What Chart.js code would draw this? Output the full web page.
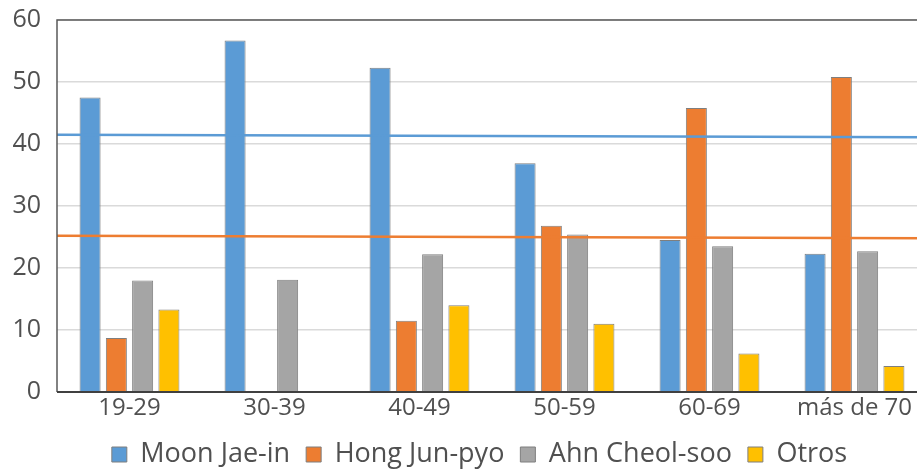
<!DOCTYPE html>
<html>
<head>
<meta charset="utf-8">
<script src="https://cdn.jsdelivr.net/npm/chart.js@4"></script>
<style>
  html, body { margin: 0; padding: 0; background: #fff; overflow: hidden; }
  #wrap { width: 930px; height: 469px; position: relative; }
</style>
</head>
<body>
<div id="wrap"><canvas id="chart"></canvas></div>
<script>
const categories = ['19-29', '30-39', '40-49', '50-59', '60-69', 'más de 70'];
const moon = [47.5, 56.7, 52.3, 36.9, 24.5, 22.3];
const hong = [8.7, null, 11.5, 26.8, 45.8, 50.8];
const ahn = [18.0, 18.1, 22.2, 25.4, 23.5, 22.7];
const otros = [13.3, null, 14.0, 11.0, 6.2, 4.2];
// average lines, value at the left and right edge of the plot
const moonAvg = [41.5, 41.1];
const hongAvg = [25.2, 24.8];
const yTicks = [0, 10, 20, 30, 40, 50, 60];

const blue = '#5b9bd5', orange = '#ed7d31', gray = '#a5a5a5', yellow = '#ffc000';
const textColor = '#505050';
const font = "'Open Sans', sans-serif";

const barDs = (label, data, color) => ({
    label: label,
    data: data,
    backgroundColor: color,
    borderColor: '#7f7f7f',
    borderWidth: 1,
    barPercentage: 0.8,
    categoryPercentage: 0.725
});

// horizontal average lines, placed with the y scale, drawn over the bars
const avgLines = {
    id: 'avgLines',
    afterDatasetsDraw(chart) {
        const a = chart.chartArea;
        const y = chart.scales.y;
        const ctx = chart.ctx;
        ctx.save();
        ctx.lineWidth = 2.5;
        [[moonAvg, blue], [hongAvg, orange]].forEach(([vals, color]) => {
            ctx.strokeStyle = color;
            ctx.beginPath();
            ctx.moveTo(a.left, y.getPixelForValue(vals[0]));
            ctx.lineTo(a.right, y.getPixelForValue(vals[1]));
            ctx.stroke();
        });
        // plot frame
        ctx.strokeStyle = '#595959';
        ctx.lineWidth = 1.5;
        ctx.beginPath();
        ctx.moveTo(a.left, a.bottom);
        ctx.lineTo(a.left, a.top);
        ctx.lineTo(a.right, a.top);
        ctx.lineTo(a.right, a.bottom);
        ctx.stroke();
        ctx.strokeStyle = '#404040';
        ctx.lineWidth = 2;
        ctx.beginPath();
        ctx.moveTo(a.left, a.bottom);
        ctx.lineTo(a.right, a.bottom);
        ctx.stroke();
        ctx.restore();
    }
};

// fixed legend height so the plot bottom lands where it should
const legendFix = {
    id: 'legendFix',
    beforeLayout(chart) {
        const lg = chart.legend;
        if (lg && !lg._patched) {
            const fit = lg.fit;
            lg.fit = function() { fit.call(this); this.height = 44; };
            lg._patched = true;
        }
    },
    afterLayout(chart) {
        chart.legend.left += 32;
    }
};

new Chart(document.getElementById('chart'), {
    type: 'bar',
    data: {
        labels: categories,
        datasets: [
            barDs('Moon Jae-in', moon, blue),
            barDs('Hong Jun-pyo', hong, orange),
            barDs('Ahn Cheol-soo', ahn, gray),
            barDs('Otros', otros, yellow)
        ]
    },
    options: {
        responsive: true,
        maintainAspectRatio: false,
        animation: false,
        layout: { padding: { top: 20, right: 3, left: 0, bottom: 0 } },
        plugins: {
            tooltip: { enabled: false },
            legend: {
                position: 'bottom',
                labels: {
                    color: textColor,
                    font: { family: font, size: 27 },
                    boxWidth: 15,
                    boxHeight: 15,
                    padding: 16
                }
            }
        },
        scales: {
            x: {
                offset: true,
                grid: { display: false, drawTicks: false },
                border: { display: false },
                ticks: { color: textColor, font: { family: font, size: 24 }, padding: 2, maxRotation: 0 },
                afterFit: (s) => { s.height = 33; }
            },
            y: {
                min: 0,
                max: 60,
                afterBuildTicks: (s) => { s.ticks = yTicks.map(v => ({ value: v })); },
                grid: { color: '#dadada', lineWidth: 1.5, drawTicks: false },
                border: { display: false },
                ticks: { color: textColor, font: { family: font, size: 25 }, padding: 16 },
                afterFit: (s) => { s.width = 57; s.paddingTop = 0; s.paddingBottom = 0; }
            }
        }
    },
    plugins: [avgLines, legendFix]
});
</script>
</body>
</html>
